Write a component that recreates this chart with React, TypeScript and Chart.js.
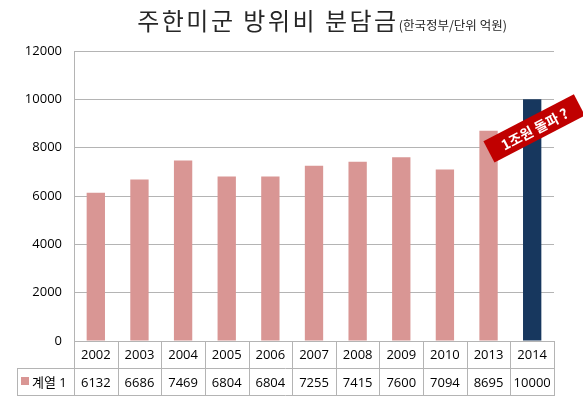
import React, { useEffect, useRef } from "react";
import { Chart, registerables } from "chart.js";
Chart.register(...registerables);

const years = ["2002", "2003", "2004", "2005", "2006", "2007", "2008", "2009", "2010", "2013", "2014"];
const values = [6132, 6686, 7469, 6804, 6804, 7255, 7415, 7600, 7094, 8695, 10000];
const seriesName = "계열 1";
const highlightIndex = 10;
const titleMain = "주한미군 방위비 분담금";
const titleSub = "(한국정부/단위 억원)";
const calloutText = "1조원 돌파 ?";
const yTicks = { min: 0, max: 12000, step: 2000 };

const PINK = "#D99694";
const NAVY = "#17375E";
const GRID = "#B4B4B4";
const FONT = "'Noto Sans CJK KR', 'Noto Sans', sans-serif";
const NUMFONT = "'Open Sans', 'Noto Sans CJK KR', sans-serif";

const overlay = {
  id: "overlay",
  afterDraw(chart: any) {
    const ctx = chart.ctx as CanvasRenderingContext2D;
    const area = chart.chartArea;
    const xs = chart.scales.x;
    const n = years.length;
    const colW = (area.right - area.left) / n;
    ctx.save();
    // title
    ctx.fillStyle = "#262626";
    ctx.textBaseline = "alphabetic";
    ctx.textAlign = "left";
    ctx.font = `24px ${FONT}`;
    (ctx as any).letterSpacing = "2.5px";
    const w1 = ctx.measureText(titleMain).width;
    ctx.font = `12.5px ${FONT}`;
    (ctx as any).letterSpacing = "0px";
    const w2 = ctx.measureText(titleSub).width;
    const tx = 322 - (w1 + w2) / 2;
    ctx.font = `24px ${FONT}`;
    (ctx as any).letterSpacing = "2.5px";
    ctx.fillText(titleMain, tx, 30);
    ctx.font = `12.5px ${FONT}`;
    (ctx as any).letterSpacing = "0px";
    ctx.fillText(titleSub, tx + w1, 30);

    // table
    const top = area.bottom;
    const mid = area.bottom + 27;
    const bot = area.bottom + 55;
    const leftCol = 17;
    ctx.strokeStyle = GRID;
    ctx.lineWidth = 1;
    ctx.beginPath();
    ctx.moveTo(area.left, top + 0.5);
    ctx.lineTo(area.right, top + 0.5);
    ctx.moveTo(leftCol, mid + 0.5);
    ctx.lineTo(area.right, mid + 0.5);
    ctx.moveTo(leftCol, bot - 0.5);
    ctx.lineTo(area.right, bot - 0.5);
    ctx.moveTo(leftCol + 0.5, mid);
    ctx.lineTo(leftCol + 0.5, bot);
    for (let i = 0; i <= n; i++) {
      const x = Math.round(area.left + i * colW) + 0.5;
      ctx.moveTo(x, i === 0 ? area.top : top);
      ctx.lineTo(x, bot);
    }
    ctx.stroke();

    ctx.fillStyle = "#000";
    ctx.font = `13px ${NUMFONT}`;
    ctx.textAlign = "center";
    ctx.textBaseline = "middle";
    for (let i = 0; i < n; i++) {
      const cx = xs.getPixelForValue(i);
      ctx.fillText(years[i], cx, (top + mid) / 2 + 1);
      ctx.fillText(String(values[i]), cx, (mid + bot) / 2 + 1);
    }
    ctx.fillStyle = PINK;
    ctx.fillRect(21, 377, 8, 8);
    ctx.fillStyle = "#000";
    ctx.textAlign = "left";
    ctx.fillText(seriesName, 32, (mid + bot) / 2 + 1);

    // callout
    const cx = xs.getPixelForValue(highlightIndex) + 2;
    const cy = chart.scales.y.getPixelForValue(8800);
    ctx.translate(cx, cy);
    ctx.rotate((-27.5 * Math.PI) / 180);
    ctx.fillStyle = "#C00000";
    ctx.fillRect(-51, -12, 102, 24);
    ctx.fillStyle = "#fff";
    ctx.font = `bold 14px ${FONT}`;
    ctx.textAlign = "center";
    ctx.textBaseline = "middle";
    ctx.fillText(calloutText, 0, 1);
    ctx.restore();
  },
};

export default function App() {
  const ref = useRef<HTMLCanvasElement>(null);
  useEffect(() => {
    const chart = new Chart(ref.current!, {
      type: "bar",
      data: {
        labels: years,
        datasets: [
          {
            label: seriesName,
            data: values,
            backgroundColor: values.map((_, i) => (i === highlightIndex ? NAVY : PINK)),
            categoryPercentage: 1,
            barPercentage: 0.42,
          },
        ],
      },
      options: {
        animation: false,
        responsive: false,
        layout: { padding: { top: 51, bottom: 56, right: 29, left: 0 } },
        plugins: { legend: { display: false }, tooltip: { enabled: false }, title: { display: false } },
        scales: {
          x: { display: false },
          y: {
            min: yTicks.min,
            max: yTicks.max,
            afterFit: (s: any) => {
              s.width = 74;
            },
            ticks: {
              stepSize: yTicks.step,
              padding: 12,
              color: "#000",
              font: { family: NUMFONT, size: 13 },
              callback: (v: any) => String(v),
            },
            grid: { color: GRID, drawTicks: false },
            border: { color: GRID },
          },
        },
      },
      plugins: [overlay],
    });
    return () => chart.destroy();
  }, []);
  return (
    <div style={{ position: "fixed", left: 0, top: 0, width: 583, height: 397, background: "#fff" }}>
      <canvas ref={ref} width={583} height={397} style={{ width: 583, height: 397 }} />
    </div>
  );
}
